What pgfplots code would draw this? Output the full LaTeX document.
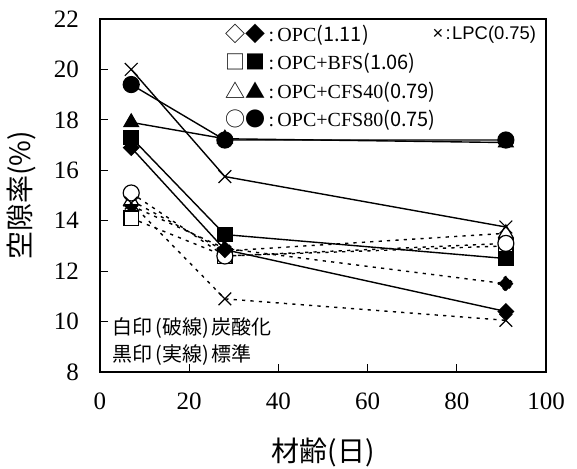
\documentclass[border=0pt]{standalone}
\usepackage{fontspec}
\setmainfont{Liberation Serif}
\newfontfamily\cjk{Noto Sans CJK JP}
\newfontfamily\asans{Liberation Sans}
\usepackage{pgfplots}
\pgfplotsset{compat=1.18}
\begin{document}
\begin{tikzpicture}
\begin{axis}[
 scale only axis, width=223pt, height=176.5pt,
 xmin=0, xmax=100, ymin=8, ymax=22,
 xtick={0,20,...,100}, ytick={8,10,...,22},
 tick align=inside, xtick pos=bottom, ytick pos=left,
 major tick length=4pt,
 axis line style={line width=0.8pt},
 tick style={line width=0.5pt, black},
 ticklabel style={font=\rmfamily\fontsize{12.5}{14}\selectfont},
 /pgf/number format/assume math mode=true,
 yticklabel style={xshift=-7pt},
 xticklabel style={yshift=-7pt},
 xlabel={\cjk 材齢(日)}, ylabel={\cjk 空隙率(\%)},
 label style={font=\fontsize{14}{16}\selectfont},
 xlabel style={yshift=-7pt},
 ylabel style={yshift=2pt},
 clip=false,
 carb/.style={black, line width=0.7pt, dash pattern=on 1.6pt off 2.6pt, mark options={solid, fill=white, line width=0.6pt}},
 std/.style={black, line width=0.7pt, mark options={solid, fill=black, line width=0.6pt}},
]
% carbonated (open markers, dashed)
\addplot[carb, mark=square*, mark size=2.65pt, mark options={rotate=45}] coordinates {(7,14.6)(28,12.9)(91,11.5)};
\addplot[carb, mark=square*, mark size=3.6pt] coordinates {(7,14.1)(28,12.6)(91,13.0)};
\addplot[carb, mark=triangle*, mark size=4.2pt] coordinates {(7,14.8)(28,12.8)(91,13.5)};
\addplot[carb, mark=*, mark size=4pt] coordinates {(7,15.1)(28,12.6)(91,13.1)};
\addplot[carb, mark=x, mark size=4.5pt] coordinates {(7,14.7)(28,10.9)(91,10.05)};
% standard (filled markers, solid)
\addplot[std, mark=square*, mark size=2.65pt, mark options={rotate=45}] coordinates {(7,16.9)(28,12.85)(91,10.4)};
\addplot[std, mark=square*, mark size=3.6pt] coordinates {(7,17.3)(28,13.45)(91,12.5)};
\addplot[std, mark=triangle*, mark size=4.2pt] coordinates {(7,17.9)(28,17.25)(91,17.1)};
\addplot[std, mark=*, mark size=4pt] coordinates {(7,19.4)(28,17.2)(91,17.2)};
\addplot[std, mark=x, mark size=4.5pt] coordinates {(7,20.0)(28,15.75)(91,13.75)};
% legend text
\node[anchor=west, inner sep=0pt, font=\fontsize{10}{12}\selectfont] at (rel axis cs:0.28,0.955) {{\cjk ◇◆}\,:\,OPC{\cjk(1.11)}};
\node[anchor=west, inner sep=0pt, font=\fontsize{9.2}{12}\selectfont] at (rel axis cs:0.745,0.955) {\asans ×\hspace{0.12em}:\hspace{0.08em}LPC(0.75)};
\node[anchor=west, inner sep=0pt, font=\fontsize{10}{12}\selectfont] at (rel axis cs:0.28,0.875) {{\cjk □■}\,:\,OPC+BFS{\cjk(1.06)}};
\node[anchor=west, inner sep=0pt, font=\fontsize{10}{12}\selectfont] at (rel axis cs:0.28,0.793) {{\cjk △▲}\,:\,OPC+CFS40{\cjk(0.79)}};
\node[anchor=west, inner sep=0pt, font=\fontsize{10}{12}\selectfont] at (rel axis cs:0.28,0.714) {{\cjk ○●}\,:\,OPC+CFS80{\cjk(0.75)}};
% annotation
\node[anchor=west, inner sep=0pt, font=\cjk\fontsize{10}{12}\selectfont] at (rel axis cs:0.027,0.125) {白印\hspace{0.15em}(破線)\hspace{0.15em}炭酸化};
\node[anchor=west, inner sep=0pt, font=\cjk\fontsize{10}{12}\selectfont] at (rel axis cs:0.027,0.048) {黒印\hspace{0.15em}(実線)\hspace{0.15em}標準};
\end{axis}
\pgfresetboundingbox
\path (-50pt,-48.5pt) rectangle (238.5pt,186pt);
\end{tikzpicture}
\end{document}
